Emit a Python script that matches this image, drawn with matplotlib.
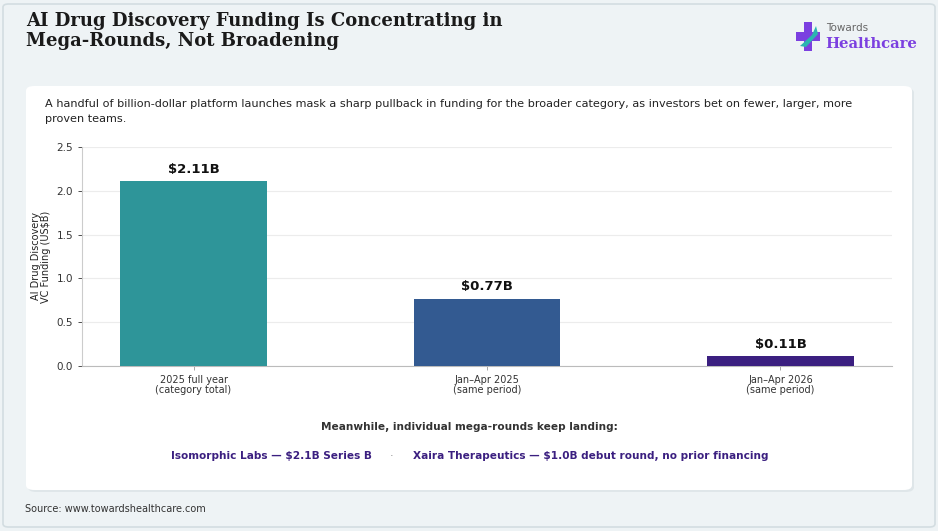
import matplotlib.pyplot as plt
from matplotlib.patches import FancyBboxPatch, Rectangle, Polygon

# data
categories = ['2025 full year\n(category total)', 'Jan\u2013Apr 2025\n(same period)', 'Jan\u2013Apr 2026\n(same period)']
funding = [2.11, 0.77, 0.11]
value_labels = ['$2.11B', '$0.77B', '$0.11B']
bar_colors = ['#2e9599', '#335a91', '#3b1f80']
mega_rounds = ['Isomorphic Labs \u2014 $2.1B Series B', 'Xaira Therapeutics \u2014 $1.0B debut round, no prior financing']

W, H = 938, 531
fig = plt.figure(figsize=(W / 100, H / 100), dpi=100)
fig.patch.set_facecolor('#eef3f5')

def fx(px):
    return px / W

def fy(py):
    return 1 - py / H

# outer frame
fig.patches.append(FancyBboxPatch((fx(3), fy(527)), fx(932), 523 / H,
                                  boxstyle='round,pad=0,rounding_size=0.006',
                                  transform=fig.transFigure, facecolor='#eef3f5',
                                  edgecolor='#d3dde1', linewidth=1.2, zorder=0))
# white card with soft shadow
fig.patches.append(FancyBboxPatch((fx(28), fy(492)), fx(886), 404 / H,
                                  boxstyle='round,pad=0,rounding_size=0.009',
                                  transform=fig.transFigure, facecolor='#dfe6e9',
                                  edgecolor='none', zorder=0.5))
fig.patches.append(FancyBboxPatch((fx(26), fy(490)), fx(886), 404 / H,
                                  boxstyle='round,pad=0,rounding_size=0.009',
                                  transform=fig.transFigure, facecolor='white',
                                  edgecolor='none', zorder=1))

# title
fig.text(fx(26), fy(12), 'AI Drug Discovery Funding Is Concentrating in\nMega-Rounds, Not Broadening',
         family='DejaVu Serif', weight='bold', fontsize=13, color='#1a1a1a',
         va='top', ha='left', linespacing=1.12)

# logo
cross = '#7b3fe0'
fig.patches.append(Rectangle((fx(804), fy(51)), fx(8), 29 / H, transform=fig.transFigure,
                             facecolor=cross, edgecolor='none', zorder=2))
fig.patches.append(Rectangle((fx(796), fy(41)), fx(24), 9 / H, transform=fig.transFigure,
                             facecolor=cross, edgecolor='none', zorder=2))
fig.patches.append(Polygon([(fx(800), fy(46)), (fx(812), fy(35)), (fx(816), fy(26)),
                            (fx(818), fy(34)), (fx(806), fy(47))],
                           closed=True, transform=fig.transFigure,
                           facecolor='#2bb5b0', edgecolor='none', zorder=3))
fig.text(fx(826), fy(28), 'Towards', fontsize=7.5, color='#666666', ha='left', va='center')
fig.text(fx(825), fy(44), 'Healthcare', family='DejaVu Serif', fontsize=10.6, weight='semibold',
         color='#7b3fe0', ha='left', va='center')

# subtitle
fig.text(fx(45), fy(99), 'A handful of billion-dollar platform launches mask a sharp pullback in funding for the broader category, as investors bet on fewer, larger, more\nproven teams.',
         fontsize=8.15, color='#222222', ha='left', va='top', linespacing=1.6)

# chart
ax = fig.add_axes([fx(82), fy(366), fx(892 - 82), (366 - 147) / H])
ax.set_facecolor('white')
ax.set_zorder(2)
x = range(len(categories))
bars = ax.bar(x, funding, width=0.5, color=bar_colors, zorder=3)
for b, lab in zip(bars, value_labels):
    ax.text(b.get_x() + b.get_width() / 2, b.get_height() + 0.06, lab,
            ha='center', va='bottom', fontsize=9.5, weight='bold', color='#111111')
ax.set_xlim(-0.38, 2.38)
ax.set_ylim(0, 2.5)
ax.set_yticks([0, 0.5, 1.0, 1.5, 2.0, 2.5])
ax.set_xticks(list(x))
ax.set_xticklabels(categories, fontsize=7, color='#333333', linespacing=1.0)
ax.tick_params(axis='y', labelsize=7.5, colors='#333333', length=3, width=0.6)
ax.tick_params(axis='x', length=3, width=0.6, colors='#999999', labelcolor='#333333')
ax.yaxis.grid(True, color='#ececec', linewidth=0.8, zorder=0)
ax.set_axisbelow(True)
for s in ['top', 'right']:
    ax.spines[s].set_visible(False)
ax.spines['left'].set_color('#cccccc')
ax.spines['bottom'].set_color('#bbbbbb')
ax.set_ylabel('AI Drug Discovery\nVC Funding (US$B)', fontsize=7, color='#222222', labelpad=4,
              linespacing=1.0)

# mega rounds note
fig.text(0.5, fy(427), 'Meanwhile, individual mega-rounds keep landing:', fontsize=7.6,
         weight='bold', color='#333333', ha='center', va='center')
fig.text(fx(372), fy(456), mega_rounds[0], fontsize=7.6, weight='bold', color='#3b1f80',
         ha='right', va='center')
fig.text(fx(392), fy(456), '\u00b7', fontsize=8, color='#888888', ha='center', va='center')
fig.text(fx(413), fy(456), mega_rounds[1], fontsize=7.6, weight='bold', color='#3b1f80',
         ha='left', va='center')

fig.text(fx(25), fy(509), 'Source: www.towardshealthcare.com', fontsize=7, color='#333333',
         ha='left', va='center')

fig.savefig('out.png', dpi=100, facecolor=fig.get_facecolor())
